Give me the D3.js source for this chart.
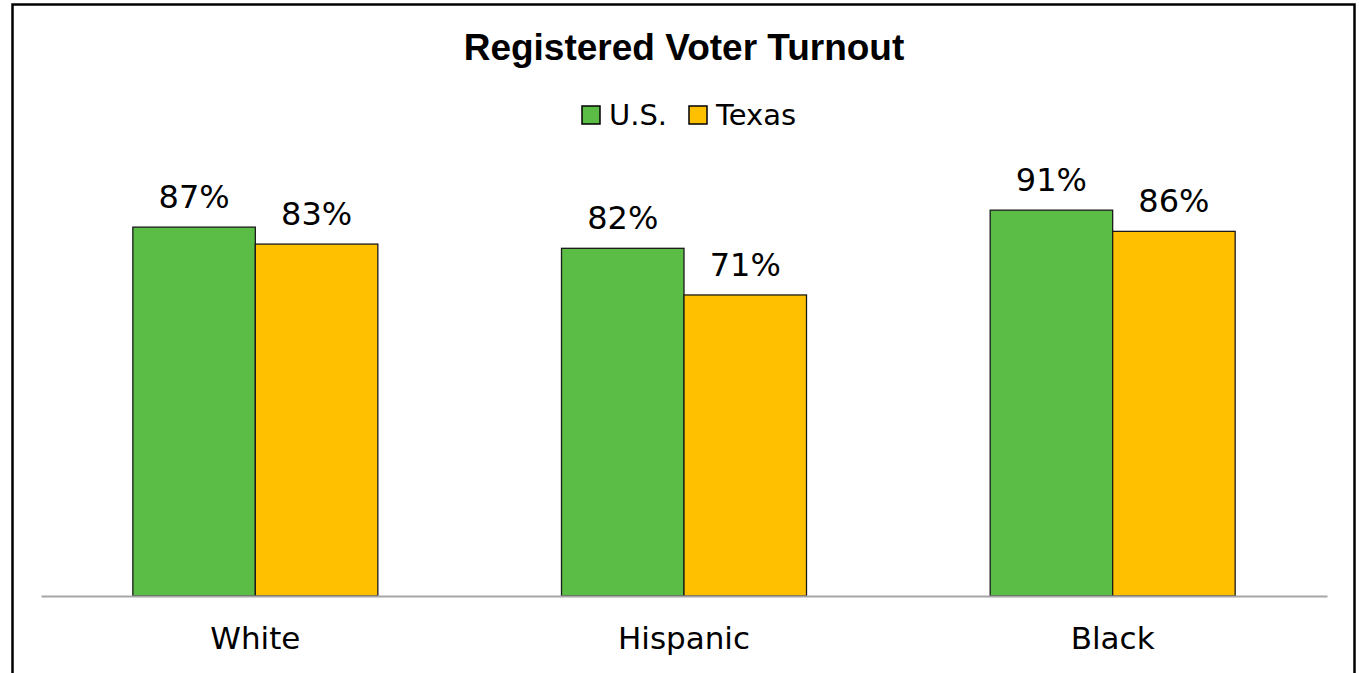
<!DOCTYPE html>
<html>
<head>
<meta charset="utf-8">
<script src="https://cdn.jsdelivr.net/npm/d3@7"></script>
<style>
  body { margin: 0; background: #fff; }
  svg { display: block; }
</style>
</head>
<body>
<div id="chart"></div>
<script>
const F_WIDTH = 1359;
const F_HEIGHT = 673;
const LABEL_FONT = "'DejaVu Sans', sans-serif";

// data
const CATEGORIES = ["White", "Hispanic", "Black"];
const SERIES = ["U.S.", "Texas"];
const US_VALUES = [0.87, 0.82, 0.91];
const TEXAS_VALUES = [0.83, 0.71, 0.86];
const SERIES_COLORS = ["#5bbd45", "#ffc000"];

const rows = CATEGORIES.map((c, i) => ({cat: c, values: [US_VALUES[i], TEXAS_VALUES[i]]}));

const FRAME = d3.select("#chart")
  .append("svg")
    .attr("width", F_WIDTH)
    .attr("height", F_HEIGHT);

// outer border
FRAME.append("rect")
  .attr("x", 12.5)
  .attr("y", 4.5)
  .attr("width", 1342)
  .attr("height", 700)
  .attr("fill", "none")
  .attr("stroke", "#000")
  .attr("stroke-width", 2.5);

// title
FRAME.append("text")
  .attr("x", 684)
  .attr("y", 60)
  .attr("text-anchor", "middle")
  .style("font-family", "'Liberation Sans', Arial, sans-serif")
  .style("font-weight", "bold")
  .style("font-size", "37px")
  .text("Registered Voter Turnout");

// scales
const X_SCALE = d3.scaleBand()
  .domain(CATEGORIES)
  .range([41, 1327]);

const BAR_W = 122.5;
const X_INNER = d3.scaleBand()
  .domain(SERIES)
  .range([X_SCALE.bandwidth() / 2 - BAR_W, X_SCALE.bandwidth() / 2 + BAR_W]);

const Y_SCALE = d3.scaleLinear()
  .domain([0, 1])
  .range([596, 172]);

// bars
const groups = FRAME.append("g")
  .selectAll("g")
  .data(rows)
  .enter()
  .append("g")
    .attr("transform", (d) => "translate(" + X_SCALE(d.cat) + ",0)");

groups.selectAll("rect")
  .data((d) => d.values.map((v, i) => ({s: SERIES[i], v: v, i: i})))
  .enter()
  .append("rect")
    .attr("x", (d) => X_INNER(d.s))
    .attr("y", (d) => Y_SCALE(d.v))
    .attr("width", X_INNER.bandwidth())
    .attr("height", (d) => Y_SCALE(0) - Y_SCALE(d.v))
    .attr("fill", (d) => SERIES_COLORS[d.i])
    .attr("stroke", "#1a1a1a")
    .attr("stroke-width", 1.3);

// value labels
groups.selectAll("text")
  .data((d) => d.values.map((v, i) => ({s: SERIES[i], v: v})))
  .enter()
  .append("text")
    .attr("x", (d) => X_INNER(d.s) + X_INNER.bandwidth() / 2)
    .attr("y", (d) => Y_SCALE(d.v) - 19)
    .attr("text-anchor", "middle")
    .style("font-family", LABEL_FONT)
    .style("font-size", "32px")
    .style("fill", "#000")
    .text((d) => d3.format(".0%")(d.v));

// x-axis
const xAxis = FRAME.append("g")
  .attr("transform", "translate(0,596)")
  .call(d3.axisBottom(X_SCALE).tickSize(0).tickPadding(31));

xAxis.select(".domain")
  .attr("stroke", "#a6a6a6")
  .attr("stroke-width", 2);

xAxis.selectAll("text")
  .style("font-family", LABEL_FONT)
  .style("font-size", "31px")
  .style("fill", "#000");

// legend
const legend = FRAME.append("g")
  .attr("transform", "translate(582,106)");

const LEG_X = [0, 107];
SERIES.forEach((s, i) => {
  legend.append("rect")
    .attr("x", LEG_X[i])
    .attr("y", 0)
    .attr("width", 18)
    .attr("height", 18)
    .attr("fill", SERIES_COLORS[i])
    .attr("stroke", "#000")
    .attr("stroke-width", 1.5);
  legend.append("text")
    .attr("x", LEG_X[i] + 27)
    .attr("y", 19)
    .style("font-family", LABEL_FONT)
    .style("font-size", "29px")
    .text(s);
});
</script>
</body>
</html>
